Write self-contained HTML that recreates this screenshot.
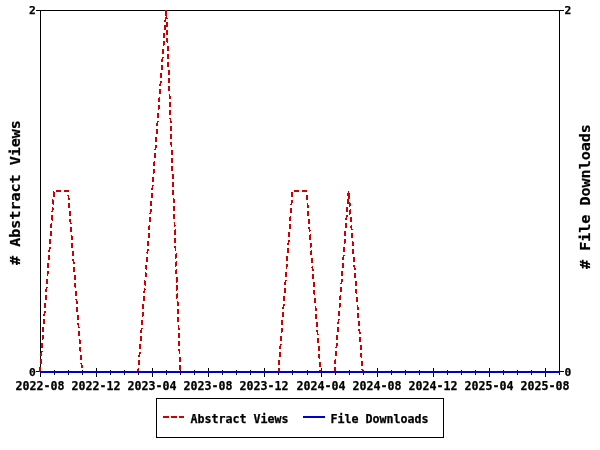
<!DOCTYPE html>
<html><head><meta charset="utf-8"><style>
html,body{margin:0;padding:0;background:#fff;}
svg{display:block}
text{font-family:"DejaVu Sans Mono","Liberation Mono",monospace;font-weight:bold;font-size:11.63px;fill:#000;stroke:#000;stroke-width:0.25px}
.big{font-size:15.05px}
.tk{font-size:11.3px}
</style></head><body>
<svg width="600" height="450" viewBox="0 0 600 450">
<rect width="600" height="450" fill="#fff"/>
<g shape-rendering="crispEdges" stroke="#000" stroke-width="1" fill="none">
<rect x="40.5" y="10.5" width="519" height="361"/>
<line x1="36" y1="10.5" x2="40" y2="10.5"/><line x1="36" y1="371.5" x2="40" y2="371.5"/>
<line x1="560" y1="10.5" x2="564" y2="10.5"/><line x1="560" y1="371.5" x2="564" y2="371.5"/>
<line x1="40.5" y1="368" x2="40.5" y2="377"/><line x1="54.5" y1="370" x2="54.5" y2="375"/><line x1="68.5" y1="370" x2="68.5" y2="375"/><line x1="82.5" y1="370" x2="82.5" y2="375"/><line x1="96.5" y1="368" x2="96.5" y2="377"/><line x1="110.5" y1="370" x2="110.5" y2="375"/><line x1="124.5" y1="370" x2="124.5" y2="375"/><line x1="138.5" y1="370" x2="138.5" y2="375"/><line x1="152.5" y1="368" x2="152.5" y2="377"/><line x1="166.5" y1="370" x2="166.5" y2="375"/><line x1="180.5" y1="370" x2="180.5" y2="375"/><line x1="194.5" y1="370" x2="194.5" y2="375"/><line x1="208.5" y1="368" x2="208.5" y2="377"/><line x1="222.5" y1="370" x2="222.5" y2="375"/><line x1="236.5" y1="370" x2="236.5" y2="375"/><line x1="250.5" y1="370" x2="250.5" y2="375"/><line x1="264.5" y1="368" x2="264.5" y2="377"/><line x1="278.5" y1="370" x2="278.5" y2="375"/><line x1="292.5" y1="370" x2="292.5" y2="375"/><line x1="307.5" y1="370" x2="307.5" y2="375"/><line x1="321.5" y1="368" x2="321.5" y2="377"/><line x1="335.5" y1="370" x2="335.5" y2="375"/><line x1="349.5" y1="370" x2="349.5" y2="375"/><line x1="363.5" y1="370" x2="363.5" y2="375"/><line x1="377.5" y1="368" x2="377.5" y2="377"/><line x1="391.5" y1="370" x2="391.5" y2="375"/><line x1="405.5" y1="370" x2="405.5" y2="375"/><line x1="419.5" y1="370" x2="419.5" y2="375"/><line x1="433.5" y1="368" x2="433.5" y2="377"/><line x1="447.5" y1="370" x2="447.5" y2="375"/><line x1="461.5" y1="370" x2="461.5" y2="375"/><line x1="475.5" y1="370" x2="475.5" y2="375"/><line x1="489.5" y1="368" x2="489.5" y2="377"/><line x1="503.5" y1="370" x2="503.5" y2="375"/><line x1="517.5" y1="370" x2="517.5" y2="375"/><line x1="531.5" y1="370" x2="531.5" y2="375"/><line x1="545.5" y1="368" x2="545.5" y2="377"/><line x1="559.5" y1="370" x2="559.5" y2="375"/>
</g>
<polyline points="40.00,372.00 54.03,191.00 68.05,191.00 82.08,372.00 96.11,372.00 110.14,372.00 124.16,372.00 138.19,372.00 152.22,191.00 166.24,10.00 180.27,372.00 194.30,372.00 208.32,372.00 222.35,372.00 236.38,372.00 250.41,372.00 264.43,372.00 278.46,372.00 292.49,191.00 306.51,191.00 320.54,372.00 334.57,372.00 348.59,191.00 362.62,372.00 376.65,372.00 390.68,372.00 404.70,372.00 418.73,372.00 432.76,372.00 446.78,372.00 460.81,372.00 474.84,372.00 488.86,372.00 502.89,372.00 516.92,372.00 530.95,372.00 544.97,372.00 559.00,372.00" fill="none" stroke="#cc0000" stroke-width="1.9" stroke-dasharray="5,3" shape-rendering="crispEdges"/>
<line x1="40" y1="372" x2="560" y2="372" stroke="#0000cc" stroke-width="2" shape-rendering="crispEdges"/>
<text x="40" y="390" text-anchor="middle">2022-08</text><text x="96" y="390" text-anchor="middle">2022-12</text><text x="152" y="390" text-anchor="middle">2023-04</text><text x="208" y="390" text-anchor="middle">2023-08</text><text x="264" y="390" text-anchor="middle">2023-12</text><text x="321" y="390" text-anchor="middle">2024-04</text><text x="377" y="390" text-anchor="middle">2024-08</text><text x="433" y="390" text-anchor="middle">2024-12</text><text x="489" y="390" text-anchor="middle">2025-04</text><text x="545" y="390" text-anchor="middle">2025-08</text>
<text class="tk" x="35.7" y="14.2" text-anchor="end">2</text>
<text class="tk" x="35.7" y="376.1" text-anchor="end">0</text>
<text class="tk" x="564.6" y="14.2">2</text>
<text class="tk" x="564.6" y="376.1">0</text>
<text class="big" transform="translate(20.4,192.5) rotate(-90) scale(1,0.93)" text-anchor="middle"># Abstract Views</text>
<text class="big" transform="translate(590.4,196.5) rotate(-90) scale(1,0.93)" text-anchor="middle"># File Downloads</text>
<rect x="156.5" y="398.5" width="287" height="39" fill="#fff" stroke="#000" shape-rendering="crispEdges"/>
<line x1="163" y1="417" x2="184" y2="417" stroke="#cc0000" stroke-width="2" stroke-dasharray="6,2" shape-rendering="crispEdges"/>
<text x="190.5" y="422.7">Abstract Views</text>
<line x1="303" y1="417" x2="325" y2="417" stroke="#0000cc" stroke-width="2" shape-rendering="crispEdges"/>
<text x="330.5" y="422.7">File Downloads</text>
</svg>
</body></html>
